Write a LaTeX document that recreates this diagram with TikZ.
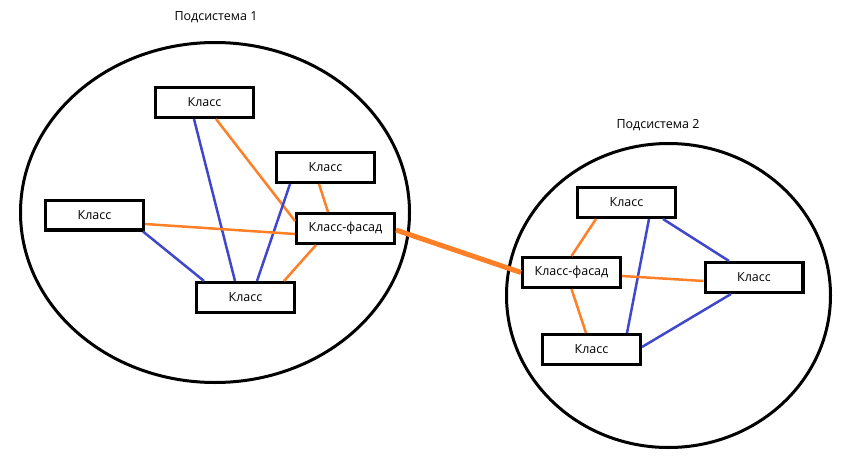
\documentclass[tikz,border=0pt]{standalone}
\usepackage{fontspec}
\setmainfont{Open Sans}
\definecolor{pblue}{RGB}{63,72,204}
\definecolor{porange}{RGB}{255,127,39}
\begin{document}
\begin{tikzpicture}[x=1pt,y=-1pt,
  cls/.style={draw=black,line width=3.2pt,minimum width=97.8pt,minimum height=29.8pt,inner sep=0pt,font=\fontsize{12.5}{14}\selectfont},
  ttl/.style={font=\fontsize{12.5}{14}\selectfont},
  sub/.style={draw=black,line width=3pt},
  bl/.style={draw=pblue,line width=2.5pt},
  orl/.style={draw=porange,line width=2.5pt},
  thick orl/.style={draw=porange,line width=5pt}]
\useasboundingbox (0,0) rectangle (849,474);
% subsystem 1
\draw[sub] (215,212.5) ellipse [x radius=194.5, y radius=170];
\node[ttl] (t1) at (216,17) {Подсистема 1};
\node[cls] (A) at (204.5,102.5) {Класс};
\node[cls] (B) at (325.5,167.5) {Класс};
\node[cls] (C) at (94.5,215) {Класс};
\node[cls] (F) at (345.5,228.5) {Класс-фасад};
\node[cls] (D) at (245.5,297.5) {Класс};
% subsystem 2
\draw[sub] (668.5,295.5) ellipse [x radius=162, y radius=152];
\node[ttl] (t2) at (658,125) {Подсистема 2};
\node[cls] (G) at (626.5,202.5) {Класс};
\node[cls] (F2) at (571.5,272.5) {Класс-фасад};
\node[cls] (H) at (754,277.5) {Класс};
\node[cls] (K) at (591.5,349.5) {Класс};
% connectors, subsystem 1
\draw[bl] ([xshift=-10.5pt]A.south) -- ([xshift=-10.5pt]D.north);
\draw[orl] ([xshift=11.5pt]A.south) -- ([yshift=7.5pt]F.west);
\draw[bl] ([xshift=-35.5pt]B.south) -- ([xshift=11.5pt]D.north);
\draw[orl] ([xshift=-6.5pt]B.south) -- ([xshift=-17.5pt]F.north);
\draw[orl] ([yshift=-9pt]C.east) -- ([yshift=-5.5pt]F.west);
\draw[bl] ([xshift=-2pt]C.south east) -- ([xshift=-41.5pt]D.north);
\draw[orl] ([xshift=-29.5pt]F.south) -- ([xshift=38.5pt]D.north);
% link between facades
\draw[thick orl] ([yshift=-1.5pt]F.east) -- (F2.west);
% connectors, subsystem 2
\draw[orl] ([xshift=-30.5pt]G.south) -- (F2.north);
\draw[bl] ([xshift=22.5pt]G.south) -- ([xshift=35.5pt]K.north);
\draw[bl] ([xshift=36.5pt]G.south) -- ([xshift=-25pt]H.north);
\draw[orl] ([yshift=-3.5pt]F2.east) -- ([yshift=-3.5pt]H.west);
\draw[orl] (F2.south) -- ([xshift=-5.5pt]K.north);
\draw[bl] ([xshift=-23pt]H.south) -- ([yshift=2.5pt]K.east);
\end{tikzpicture}
\end{document}
